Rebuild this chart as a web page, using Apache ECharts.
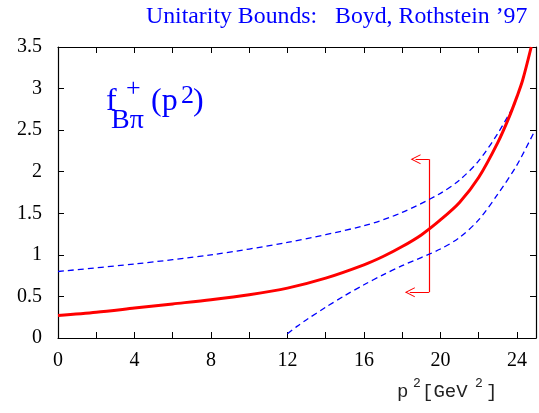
<!DOCTYPE html>
<html>
<head>
    <meta charset="utf-8">
    <title>Unitarity Bounds</title>
    <script src="https://cdn.jsdelivr.net/npm/echarts@6/dist/echarts.min.js"></script>
    <style>
        html, body { margin: 0; padding: 0; background: #fff; }
        #chart1 { width: 539px; height: 413px; }
    </style>
</head>
<body>
<div id="chart1"></div>
<script type="text/javascript">
    // red central curve f+(p^2)
    var redX = [0, 2, 4, 6, 8, 10, 12, 14, 16, 17, 18, 19, 20, 21, 22, 23, 23.6, 24, 24.3, 24.75];
    var redY = [0.27, 0.31, 0.36, 0.41, 0.46, 0.52, 0.60, 0.72, 0.88, 0.98, 1.10, 1.24, 1.42, 1.63, 1.93, 2.35, 2.66, 2.90, 3.10, 3.50];
    // upper bound (dashed)
    var upX = [0, 4, 8, 12, 16, 18, 20, 21, 22, 23, 23.9];
    var upY = [0.80, 0.89, 1.00, 1.15, 1.35, 1.51, 1.74, 1.90, 2.13, 2.46, 2.82];
    // lower bound (dashed)
    var lowX = [12, 12.5, 13, 14, 15, 16, 17, 18, 20, 21, 22, 23, 24, 24.95];
    var lowY = [0.05, 0.14, 0.22, 0.37, 0.51, 0.64, 0.76, 0.87, 1.07, 1.21, 1.42, 1.73, 2.08, 2.50];
    // error bracket at p^2 = 19.4
    var barX = 19.4;
    var barTop = 2.15, barBottom = 0.55;
    var arrowTopX = 18.7, arrowBottomX = 18.4;
    var xTicks = [0, 25, 2];
    var yTicks = [0, 3.5, 0.5];

    function pairs(xs, ys) {
        var out = [];
        for (var i = 0; i < xs.length; i++) out.push([xs[i], ys[i]]);
        return out;
    }

    var serif = '"Liberation Serif", "DejaVu Serif", serif';
    var mono = '"Liberation Mono", "DejaVu Sans Mono", monospace';
    var blue = '#0000ff';
    var red = '#ff0000';
    var chevron = 'path://M0,0 L6,10 L4.8,10 L0,2.2 L-4.8,10 L-6,10 Z';

    function xAxisOpt(pos, labels) {
        return {
            type: 'value', position: pos, min: xTicks[0], max: xTicks[1], interval: xTicks[2],
            axisLine: { show: true, onZero: false, lineStyle: { color: '#000', width: 1.2 } },
            axisTick: { show: true, inside: true, length: 6, lineStyle: { color: '#000' } },
            axisLabel: {
                show: labels, margin: 13, color: '#000', fontFamily: serif, fontSize: 20,
                showMaxLabel: false,
                formatter: function (v) { return v % 4 === 0 ? String(v) : ''; }
            },
            splitLine: { show: false }
        };
    }

    function yAxisOpt(pos, labels) {
        return {
            type: 'value', position: pos, min: yTicks[0], max: yTicks[1], interval: yTicks[2],
            axisLine: { show: true, onZero: false, lineStyle: { color: '#000', width: 1.2 } },
            axisTick: { show: true, inside: true, length: 6, lineStyle: { color: '#000' } },
            axisLabel: { show: labels, margin: 16, color: '#000', fontFamily: serif, fontSize: 20 },
            splitLine: { show: false }
        };
    }

    var myChart = echarts.init(document.getElementById('chart1'));
    myChart.setOption({
        animation: false,
        grid: { left: 58, right: 3, top: 47, bottom: 75, containLabel: false },
        xAxis: [xAxisOpt('bottom', true), xAxisOpt('top', false)],
        yAxis: [yAxisOpt('left', true), yAxisOpt('right', false)],
        graphic: [
            { type: 'text', left: 146, top: 5,
              style: { text: 'Unitarity Bounds:   Boyd, Rothstein \u201997', fill: blue, font: '23.8px ' + serif } },
            { type: 'text', left: 106, top: 86, style: { text: 'f', fill: blue, font: '32px ' + serif } },
            { type: 'text', left: 126, top: 76, style: { text: '+', fill: blue, font: '26px ' + serif } },
            { type: 'text', left: 111, top: 107, style: { text: 'B\u03c0', fill: blue, font: '28px ' + serif } },
            { type: 'text', left: 151, top: 86, style: { text: '(p', fill: blue, font: '32px ' + serif } },
            { type: 'text', left: 181, top: 83, style: { text: '2', fill: blue, font: '26px ' + serif } },
            { type: 'text', left: 193, top: 86, style: { text: ')', fill: blue, font: '32px ' + serif } },
            { type: 'text', left: 397, top: 382, style: { text: 'p', fill: '#222', font: '19px ' + mono } },
            { type: 'text', left: 413, top: 377, style: { text: '2', fill: '#222', font: '13px ' + mono } },
            { type: 'text', left: 422, top: 382, style: { text: '[GeV', fill: '#222', font: '19px ' + mono } },
            { type: 'text', left: 475, top: 377, style: { text: '2', fill: '#222', font: '13px ' + mono } },
            { type: 'text', left: 486, top: 382, style: { text: ']', fill: '#222', font: '19px ' + mono } }
        ],
        series: [
            {
                name: 'upper', type: 'line', data: pairs(upX, upY), showSymbol: false, symbol: 'none',
                smooth: 0.3,
                lineStyle: { color: blue, width: 1.3, type: [6, 4] }
            },
            {
                name: 'lower', type: 'line', data: pairs(lowX, lowY), showSymbol: false, symbol: 'none',
                smooth: 0.3,
                lineStyle: { color: blue, width: 1.3, type: [6, 4] }
            },
            {
                name: 'f+', type: 'line', data: pairs(redX, redY), showSymbol: false, symbol: 'none',
                smooth: 0.3,
                lineStyle: { color: red, width: 3 }
            },
            {
                name: 'bar', type: 'lines', coordinateSystem: 'cartesian2d', symbol: 'none',
                lineStyle: { color: red, width: 1.2, opacity: 1 },
                data: [{ coords: [[barX, barTop], [barX, barBottom]] }]
            },
            {
                name: 'arrows', type: 'lines', coordinateSystem: 'cartesian2d',
                symbol: ['none', chevron], symbolSize: [7, 10],
                lineStyle: { color: red, width: 1.2, opacity: 1 },
                data: [
                    { coords: [[barX, barTop], [arrowTopX, barTop]] },
                    { coords: [[barX, barBottom], [arrowBottomX, barBottom]] }
                ]
            }
        ]
    });
</script>
</body>
</html>
